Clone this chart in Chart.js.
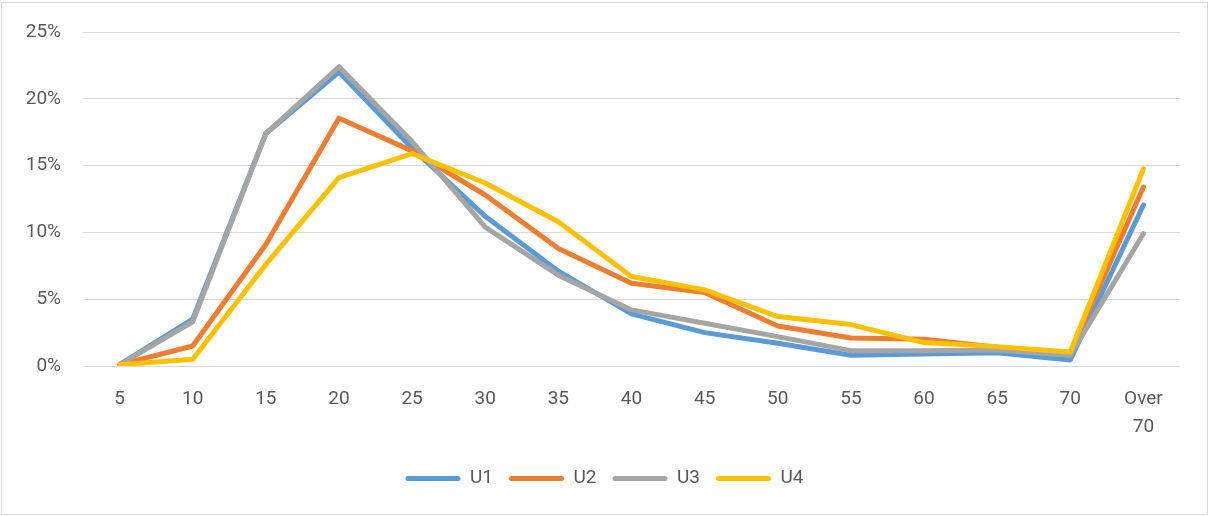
<!DOCTYPE html>
<html lang="en">
<head>
  <meta charset="UTF-8">
  <title>Age distribution U1-U4</title>
  <script src="https://cdn.jsdelivr.net/npm/chart.js"></script>
  <style>
    html, body {
      margin: 0;
      padding: 0;
      background: #ffffff;
    }
    .frame {
      position: absolute;
      left: 1px;
      top: 2px;
      width: 1205px;
      height: 511px;
      border: 1px solid #d9d9d9;
    }
  </style>
</head>
<body>
  <div class="frame">
    <canvas id="ageChart" width="1205" height="511"></canvas>
  </div>

  <script>
    const categories = ['5', '10', '15', '20', '25', '30', '35', '40', '45', '50', '55', '60', '65', '70', ['Over', '70']];

    const u1 = [0.1, 3.5, 17.4, 22.0, 16.3, 11.2, 7.1, 3.9, 2.5, 1.7, 0.8, 0.9, 1.0, 0.45, 12.05];
    const u2 = [0.1, 1.5, 9.1, 18.55, 16.1, 12.8, 8.8, 6.2, 5.5, 3.0, 2.1, 2.0, 1.4, 0.95, 13.4];
    const u3 = [0.1, 3.3, 17.4, 22.4, 16.8, 10.4, 6.8, 4.2, 3.2, 2.2, 1.15, 1.15, 1.2, 0.8, 9.9];
    const u4 = [0.1, 0.5, 7.6, 14.1, 15.9, 13.7, 10.8, 6.7, 5.7, 3.7, 3.1, 1.75, 1.45, 1.05, 14.75];

    const yTicks = [0, 5, 10, 15, 20, 25];

    const textColor = '#595959';
    const gridColor = '#d9d9d9';
    const font = { family: 'Roboto, "Open Sans", sans-serif', size: 19 };

    function series(label, data, color, order) {
      return {
        label: label,
        data: data,
        borderColor: color,
        backgroundColor: color,
        borderWidth: 5,
        pointRadius: 0,
        tension: 0,
        borderCapStyle: 'round',
        borderJoinStyle: 'round',
        order: order
      };
    }

    const ctx = document.getElementById('ageChart').getContext('2d');
    new Chart(ctx, {
      type: 'line',
      data: {
        labels: categories,
        datasets: [
          series('U1', u1, '#5b9bd5', 4),
          series('U2', u2, '#ed7d31', 3),
          series('U3', u3, '#a5a5a5', 2),
          series('U4', u4, '#ffc000', 1)
        ]
      },
      options: {
        responsive: false,
        animation: false,
        layout: {
          padding: { top: 0, right: 0, bottom: 16, left: 0 }
        },
        plugins: {
          tooltip: { enabled: false },
          legend: {
            position: 'bottom',
            labels: {
              color: textColor,
              font: font,
              boxWidth: 55,
              boxHeight: 5,
              padding: 16,
              useBorderRadius: true,
              borderRadius: 2.5,
              generateLabels: (chart) => chart.data.datasets.map((d, i) => ({
                text: d.label,
                fillStyle: d.borderColor,
                strokeStyle: d.borderColor,
                lineWidth: 0,
                fontColor: textColor,
                datasetIndex: i,
                borderRadius: 2.5
              }))
            }
          }
        },
        scales: {
          x: {
            offset: true,
            grid: { display: false },
            border: { display: false },
            ticks: {
              color: textColor,
              font: { ...font, lineHeight: 1.47 },
              padding: 11,
              maxRotation: 0,
              autoSkip: false
            },
            afterFit: (s) => {
              s.height = 87;
              s.paddingRight = 27;
            }
          },
          y: {
            min: 0,
            max: 25,
            afterBuildTicks: (s) => { s.ticks = yTicks.map(v => ({ value: v })); },
            grid: { color: gridColor, lineWidth: 1, drawTicks: false },
            border: { display: false },
            ticks: {
              color: textColor,
              font: font,
              padding: 22,
              callback: (v) => v + '%'
            },
            afterFit: (s) => {
              s.width = 81;
              s.paddingTop = 29;
            }
          }
        }
      }
    });
  </script>
</body>
</html>
